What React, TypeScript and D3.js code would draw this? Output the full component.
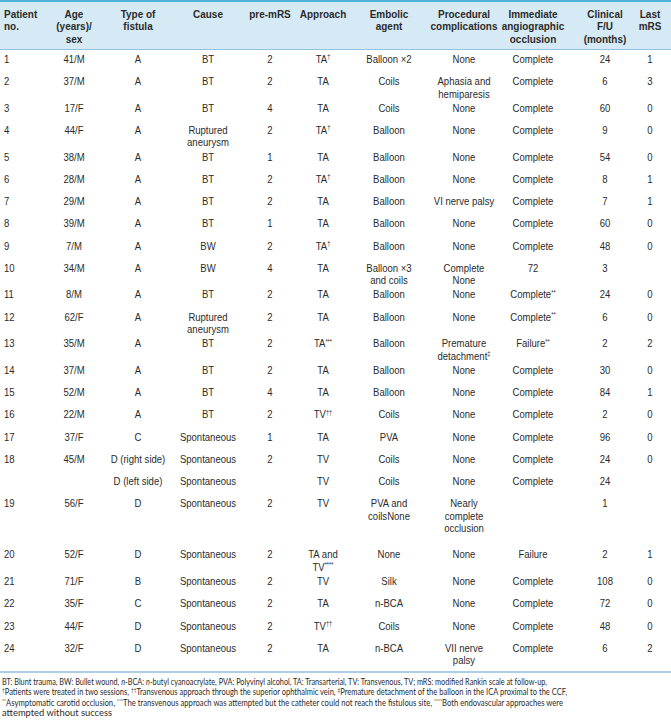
import * as d3 from "d3";

const W = 671;
const H = 720;

// ---- table content ----
const headers = [
  ["Patient", "no."],
  ["Age", "(years)/", "sex"],
  ["Type of", "fistula"],
  ["Cause"],
  ["pre-mRS"],
  ["Approach"],
  ["Embolic", "agent"],
  ["Procedural", "complications"],
  ["Immediate", "angiographic", "occlusion"],
  ["Clinical", "F/U", "(months)"],
  ["Last", "mRS"],
];

const patientNo = ["1", "2", "3", "4", "5", "6", "7", "8", "9", "10", "11", "12", "13", "14", "15", "16", "17", "18", "", "19", "20", "21", "22", "23", "24"];
const ageSex = ["41/M", "37/M", "17/F", "44/F", "38/M", "28/M", "29/M", "39/M", "7/M", "34/M", "8/M", "62/F", "35/M", "37/M", "52/M", "22/M", "37/F", "45/M", "", "56/F", "52/F", "71/F", "35/F", "44/F", "32/F"];
const fistulaType = ["A", "A", "A", "A", "A", "A", "A", "A", "A", "A", "A", "A", "A", "A", "A", "A", "C", "D (right side)", "D (left side)", "D", "D", "B", "C", "D", "D"];
const cause = ["BT", "BT", "BT", "Ruptured\naneurysm", "BT", "BT", "BT", "BT", "BW", "BW", "BT", "Ruptured\naneurysm", "BT", "BT", "BT", "BT", "Spontaneous", "Spontaneous", "Spontaneous", "Spontaneous", "Spontaneous", "Spontaneous", "Spontaneous", "Spontaneous", "Spontaneous"];
const preMRS = ["2", "2", "4", "2", "1", "2", "2", "1", "2", "4", "2", "2", "2", "2", "4", "2", "1", "2", "", "2", "2", "2", "2", "2", "2"];
const approach = ["TA†", "TA", "TA", "TA†", "TA", "TA†", "TA", "TA", "TA†", "TA", "TA", "TA", "TA***", "TA", "TA", "TV††", "TA", "TV", "TV", "TV", "TA and\nTV****", "TV", "TA", "TV††", "TA"];
const embolicAgent = ["Balloon ×2", "Coils", "Coils", "Balloon", "Balloon", "Balloon", "Balloon", "Balloon", "Balloon", "Balloon ×3\nand coils", "Balloon", "Balloon", "Balloon", "Balloon", "Balloon", "Coils", "PVA", "Coils", "Coils", "PVA and\ncoilsNone", "None", "Silk", "n-BCA", "Coils", "n-BCA"];
const complications = ["None", "Aphasia and\nhemiparesis", "None", "None", "None", "None", "VI nerve palsy", "None", "None", "Complete\nNone", "None", "None", "Premature\ndetachment‡", "None", "None", "None", "None", "None", "None", "Nearly\ncomplete\nocclusion", "None", "None", "None", "None", "VII nerve\npalsy"];
const occlusion = ["Complete", "Complete", "Complete", "Complete", "Complete", "Complete", "Complete", "Complete", "Complete", "72", "Complete**", "Complete**", "Failure**", "Complete", "Complete", "Complete", "Complete", "Complete", "Complete", "", "Failure", "Complete", "Complete", "Complete", "Complete"];
const followUp = ["24", "6", "60", "9", "54", "8", "7", "60", "48", "3", "24", "6", "2", "30", "84", "2", "96", "24", "24", "1", "2", "108", "72", "48", "6"];
const lastMRS = ["1", "3", "0", "0", "0", "1", "1", "0", "0", "", "0", "0", "2", "0", "1", "0", "0", "0", "", "", "1", "0", "0", "0", "2"];

const footnotes = [
  "BT: Blunt trauma, BW: Bullet wound, |n|-BCA: |n|-butyl cyanoacrylate, PVA: Polyvinyl alcohol, TA: Transarterial, TV: Transvenous, TV; mRS: modified Rankin scale at follow-up,",
  "^†^Patients were treated in two sessions, ^††^Transvenous approach through the superior ophthalmic vein, ^‡^Premature detachment of the balloon in the ICA proximal to the CCF,",
  "^**^Asymptomatic carotid occlusion, ^***^The transvenous approach was attempted but the catheter could not reach the fistulous site, ^****^Both endovascular approaches were",
  "attempted without success",
];

const columnsData = [patientNo, ageSex, fistulaType, cause, preMRS, approach, embolicAgent, complications, occlusion, followUp, lastMRS];

// ---- layout ----
const COL_X = [4, 74, 138, 208, 270, 323, 389, 464, 533, 605, 650];
const FOOT_W = [545, 565, 561, 110];
const DATA_FONT = "'Liberation Sans', Arial, sans-serif";
const FOOT_FONT = "Lato, 'Open Sans', sans-serif";
const TEXT = "#2b2b2b";
const LINE_H = 12.5;
const SX = 0.9;

function splitMark(s: string) {
  const m = s.match(/^(.*?)([†‡*]+)$/);
  return m ? [m[1], m[2]] : [s, ""];
}

function Cell({ x, y, text, anchor, size, bold, lh, sx }: { x: number; y: number; text: string; anchor: string; size: number; bold?: boolean; lh: number; sx: number }) {
  const lines = text.split("\n");
  return (
    <text
      transform={`translate(${x},${y}) scale(${sx},1)`}
      textAnchor={anchor}
      fontFamily={DATA_FONT}
      fontSize={size}
      fontWeight={bold ? "bold" : "normal"}
      fill={TEXT}
    >
      {lines.map((ln, k) => {
        const [base, mark] = splitMark(ln);
        return (
          <tspan key={k} x={0} y={k * lh}>
            {base}
            {mark && (
              <tspan fontSize={size * 0.6} dy={-size * 0.35}>
                {mark}
              </tspan>
            )}
          </tspan>
        );
      })}
    </text>
  );
}

function FootLine({ text, y, width }: { text: string; y: number; width: number }) {
  // |...| italic, ^...^ superscript
  const parts = text.split(/(\|[^|]*\||\^[^^]*\^)/).filter((p) => p.length);
  return (
    <text x={2} y={y} fontFamily={FOOT_FONT} fontSize={8.8} fill={TEXT} textLength={width} lengthAdjust="spacingAndGlyphs">
      {parts.map((p, i) => {
        if (p.startsWith("|")) return <tspan key={i} fontStyle="italic">{p.slice(1, -1)}</tspan>;
        if (p.startsWith("^"))
          return (
            <tspan key={i} fontSize={5.5} baselineShift="super">
              {p.slice(1, -1)}
            </tspan>
          );
        return <tspan key={i}>{p}</tspan>;
      })}
    </text>
  );
}

export default function App() {
  const nRows = patientNo.length;
  const lineCounts = d3.range(nRows).map((i) => d3.max(columnsData, (col) => col[i].split("\n").length) as number);
  // wrapped cells mostly spill into the row padding; only 3-line cells push the row down much
  const units = lineCounts.map((n) => 1 + 0.2 * (n - 1) + 0.9 * Math.max(0, n - 2));
  const cum = [0];
  for (let i = 1; i < nRows; i++) cum.push(cum[i - 1] + units[i - 1]);
  const y = d3.scaleLinear().domain([0, cum[nRows - 1]]).range([59, 648]);

  return (
    <svg width={W} height={H} style={{ display: "block", position: "absolute", left: 0, top: 0 }}>
      <rect x={0} y={0} width={W} height={H} fill="#fff" />
      <rect x={0} y={1} width={W} height={48.5} fill="#d6eaf5" />
      <line x1={0} x2={W} y1={1} y2={1} stroke="#4fb2da" strokeWidth={2} />
      <line x1={0} x2={W} y1={49.5} y2={49.5} stroke="#8fc3e0" strokeWidth={1} />
      {headers.map((h, c) => (
        <Cell key={c} x={COL_X[c]} y={17.5} text={h.join("\n")} anchor={c === 0 ? "start" : "middle"} size={11.6} bold lh={13} sx={0.86} />
      ))}
      {d3.range(nRows).map((i) => (
        <g key={i}>
          {columnsData.map((col, c) => (
            <Cell key={c} x={COL_X[c]} y={y(cum[i]) + 3.8} text={col[i]} anchor={c === 0 ? "start" : "middle"} size={10.6} lh={LINE_H} sx={SX} />
          ))}
        </g>
      ))}
      <line x1={0} x2={W} y1={672} y2={672} stroke="#5b9fcf" strokeWidth={1} />
      {footnotes.map((f, i) => (
        <FootLine key={i} text={f} y={685 + i * 10.4} width={FOOT_W[i]} />
      ))}
    </svg>
  );
}
